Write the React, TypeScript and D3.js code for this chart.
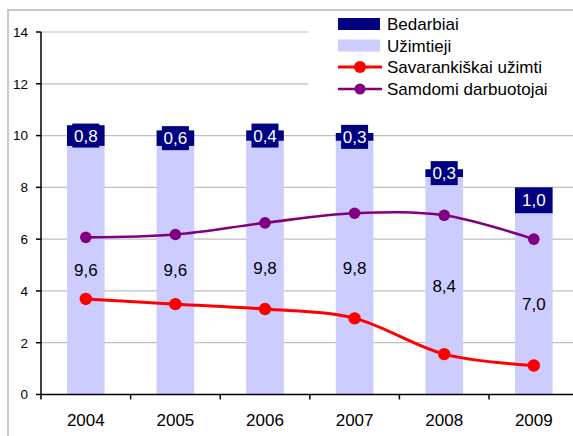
import React from "react";
import * as d3 from "d3";

const years = ["2004", "2005", "2006", "2007", "2008", "2009"];
const employed = [9.6, 9.6, 9.8, 9.8, 8.4, 7.0];
const unemployed = [0.8, 0.6, 0.4, 0.3, 0.3, 1.0];
const selfEmployed = [3.69, 3.49, 3.3, 2.94, 1.56, 1.12];
const hired = [6.07, 6.18, 6.63, 7.0, 6.92, 6.0];
const yTicks = [0, 2, 4, 6, 8, 10, 12, 14];
const legendLabels = ["Bedarbiai", "Užimtieji", "Savarankiškai užimti", "Samdomi darbuotojai"];

const fmt = (v: number) => v.toFixed(1).replace(".", ",");
const FONT = "'Liberation Sans', Arial, sans-serif";

export default function App() {
  const W = 573, H = 436;
  const x0 = 41, step = 89.6;
  const x = d3.scaleBand<string>().domain(years).range([x0, x0 + step * years.length]).paddingInner(0.58).paddingOuter(0.29);
  const xc = (d: string) => (x(d) as number) + x.bandwidth() / 2;
  const y = d3.scaleLinear().domain([0, 14]).range([394.5, 32]);
  const line = d3.line<number>().x((_, i) => xc(years[i])).y((v) => y(v)).curve(d3.curveCardinal.tension(0));
  const bw = x.bandwidth();
  const legendY = [24, 45.5, 67, 89];

  return (
    <svg width={W} height={H} style={{ position: "absolute", left: 0, top: 0, background: "#fff" }} fontFamily={FONT}>
      <rect x={8} y={10} width={W} height={H} fill="#fff" stroke="#c8c8c8" strokeWidth={2} />
      {yTicks.filter((t) => t > 0).map((t) => (
        <line key={"g" + t} x1={x0} x2={W} y1={y(t)} y2={y(t)} stroke="#c0c0c0" strokeWidth={1.2} />
      ))}
      {years.map((yr, i) => (
        <g key={"b" + yr}>
          <rect x={x(yr)} y={y(employed[i])} width={bw} height={y(0) - y(employed[i])} fill="#ccccff" />
          <rect x={x(yr)} y={y(employed[i] + unemployed[i])} width={bw} height={y(employed[i]) - y(employed[i] + unemployed[i])} fill="#000080" />
          <rect x={xc(yr) - 13.5} y={y(employed[i] + unemployed[i] / 2) - 12} width={27} height={24} fill="#000080" />
          <text x={xc(yr)} y={y(employed[i] + unemployed[i] / 2)} dy="0.36em" textAnchor="middle" fontSize={17} fill="#fff">{fmt(unemployed[i])}</text>
          <text x={xc(yr)} y={y(employed[i] / 2)} dy="0.36em" textAnchor="middle" fontSize={17} fill="#000">{fmt(employed[i])}</text>
        </g>
      ))}
      <path d={line(hired) || ""} fill="none" stroke="#800080" strokeWidth={2.6} />
      <path d={line(selfEmployed) || ""} fill="none" stroke="#ff0000" strokeWidth={3} />
      {years.map((yr, i) => (
        <g key={"m" + yr}>
          <circle cx={xc(yr)} cy={y(hired[i])} r={5.8} fill="#800080" />
          <circle cx={xc(yr)} cy={y(selfEmployed[i])} r={6.2} fill="#ff0000" />
        </g>
      ))}
      <line x1={x0} x2={x0} y1={y(14)} y2={y(0)} stroke="#000" strokeWidth={1.5} />
      <line x1={x0} x2={W} y1={y(0)} y2={y(0)} stroke="#000" strokeWidth={1.5} />
      {yTicks.map((t) => (
        <g key={"t" + t}>
          <line x1={x0 - 5} x2={x0} y1={y(t)} y2={y(t)} stroke="#000" strokeWidth={1.5} />
          <text x={28} y={y(t)} dy="0.36em" textAnchor="end" fontSize={13.5} fill="#000">{t}</text>
        </g>
      ))}
      {years.map((yr, i) => (
        <g key={"x" + yr}>
          <line x1={x0 + step * i} x2={x0 + step * i} y1={y(0)} y2={y(0) + 5} stroke="#000" strokeWidth={1.5} />
          <text x={xc(yr)} y={420} dy="0.36em" textAnchor="middle" fontSize={17} fill="#000">{yr}</text>
        </g>
      ))}
      <rect x={308} y={11} width={W - 308} height={98} fill="#fff" />
      <rect x={338} y={18} width={42} height={12} fill="#000080" />
      <rect x={338} y={39.5} width={42} height={12} fill="#ccccff" />
      <line x1={338} x2={382} y1={legendY[2]} y2={legendY[2]} stroke="#ff0000" strokeWidth={3} />
      <circle cx={360} cy={legendY[2]} r={6} fill="#ff0000" />
      <line x1={338} x2={382} y1={legendY[3]} y2={legendY[3]} stroke="#800080" strokeWidth={2.6} />
      <circle cx={360} cy={legendY[3]} r={5.5} fill="#800080" />
      {legendLabels.map((l, i) => (
        <text key={l} x={387} y={legendY[i]} dy="0.36em" fontSize={17} fill="#000">{l}</text>
      ))}
    </svg>
  );
}
